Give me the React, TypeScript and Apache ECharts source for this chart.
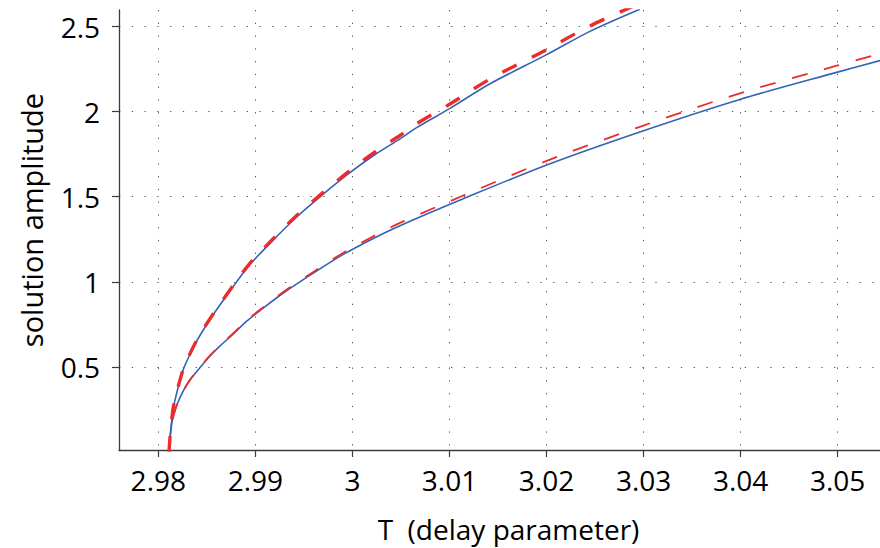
import React, { useEffect, useRef } from "react";
import * as echarts from "echarts";

// Upper branch (T, blue solid, red dashed)
const upperT = [2.9811, 2.98121, 2.98138, 2.98155, 2.98179, 2.98213, 2.98265, 2.98327, 2.98396, 2.98499, 2.98602, 2.98687, 2.98927, 2.99168, 2.99426, 2.99684, 2.99957, 3.00233, 3.0049, 3.00662, 3.01005, 3.01418, 3.02002, 3.02447, 3.02962];
const upperBlue = [0.0, 0.087, 0.185, 0.262, 0.321, 0.398, 0.496, 0.574, 0.652, 0.749, 0.837, 0.905, 1.09, 1.236, 1.381, 1.508, 1.634, 1.748, 1.84, 1.906, 2.019, 2.164, 2.335, 2.472, 2.602];
const upperRed = [0.0, 0.089, 0.188, 0.265, 0.325, 0.402, 0.5, 0.578, 0.656, 0.754, 0.842, 0.911, 1.097, 1.244, 1.39, 1.518, 1.646, 1.764, 1.86, 1.929, 2.045, 2.192, 2.365, 2.504, 2.637];

// Lower branch (T, blue solid, red dashed)
const lowerT = [2.9811, 2.98138, 2.98172, 2.98224, 2.98309, 2.9843, 2.98533, 2.98636, 2.98773, 2.98911, 2.99048, 2.99288, 2.99597, 2.99906, 3.00215, 3.0049, 3.01142, 3.02002, 3.02962, 3.03992, 3.04989, 3.05436];
const lowerBlue = [0.0, 0.165, 0.243, 0.321, 0.408, 0.496, 0.564, 0.623, 0.694, 0.769, 0.831, 0.934, 1.051, 1.161, 1.255, 1.33, 1.488, 1.687, 1.881, 2.072, 2.231, 2.3];
const lowerRed = [0.0, 0.166, 0.244, 0.322, 0.41, 0.498, 0.567, 0.626, 0.698, 0.773, 0.836, 0.94, 1.058, 1.171, 1.267, 1.346, 1.507, 1.711, 1.911, 2.108, 2.27, 2.34];

const xTicks = [2.98, 2.99, 3, 3.01, 3.02, 3.03, 3.04, 3.05];
const yTicks = [0.5, 1, 1.5, 2, 2.5];
const xRange = [2.97595, 3.05436];
const yRange = [0.0114, 2.5975];

const xName = "T  (delay parameter)";
const yName = "solution amplitude";

const FONT = "'Open Sans', 'Noto Sans', sans-serif";
const BLUE = "#3462b6";
const RED = "#ee2b2b";
const AXIS = "#3c3c3c";
const TEXT = "#000";

const zip = (xs: number[], ys: number[]) => xs.map((x, i) => [x, ys[i]]);
const fmt = (v: number) => String(parseFloat(Number(v).toFixed(3)));

export default function App() {
  const ref = useRef<HTMLDivElement>(null);
  useEffect(() => {
    if (!ref.current) return;
    const chart = echarts.init(ref.current, undefined, { renderer: "svg" });
    const grid = { left: 119, right: 0, top: 10, bottom: 95 };
    const splitLine = { show: true, lineStyle: { color: "#555", width: 1, type: [1.3, 11.47] } };
    const line = (xs: number[], ys: number[], color: string, width: number, dash: any, z: number) => ({
      type: "line",
      data: zip(xs, ys),
      showSymbol: false,
      smooth: 0.3,
      lineStyle: { color, width, type: dash },
      z,
    });
    chart.setOption({
      animation: false,
      backgroundColor: "#ffffff",
      grid,
      xAxis: {
        type: "value",
        min: xRange[0],
        max: xRange[1],
        axisLine: { show: true, onZero: false, lineStyle: { color: AXIS, width: 1.3 } },
        axisTick: { show: true, inside: false, length: 7, customValues: xTicks, lineStyle: { color: AXIS, width: 1.2 } },
        axisLabel: { customValues: xTicks, margin: 16, fontSize: 28, fontFamily: FONT, color: TEXT, formatter: fmt },
        splitLine,
        name: xName,
        nameLocation: "middle",
        nameGap: 65,
        nameTextStyle: { fontSize: 28, fontFamily: FONT, color: TEXT, padding: [0, 0, 0, 18] },
      },
      yAxis: {
        type: "value",
        min: yRange[0],
        max: yRange[1],
        axisLine: { show: true, onZero: false, lineStyle: { color: AXIS, width: 1.3 } },
        axisTick: { show: true, inside: false, length: 7, customValues: yTicks, lineStyle: { color: AXIS, width: 1.2 } },
        axisLabel: { customValues: yTicks, margin: 19, fontSize: 28, fontFamily: FONT, color: TEXT, formatter: fmt },
        splitLine,
        name: yName,
        nameLocation: "middle",
        nameGap: 73,
        nameTextStyle: { fontSize: 29, fontFamily: FONT, color: TEXT, padding: [0, 0, 0, 20] },
      },
      series: [
        line(lowerT, lowerBlue, BLUE, 1.6, "solid", 2),
        line(upperT, upperBlue, BLUE, 1.6, "solid", 2),
        line(lowerT, lowerRed, RED, 1.8, [16, 17], 3),
        line(upperT, upperRed, RED, 3.4, [16, 17], 3),
      ],
    });
    return () => chart.dispose();
  }, []);
  return <div ref={ref} style={{ position: "fixed", left: 0, top: 0, width: 880, height: 548 }} />;
}
